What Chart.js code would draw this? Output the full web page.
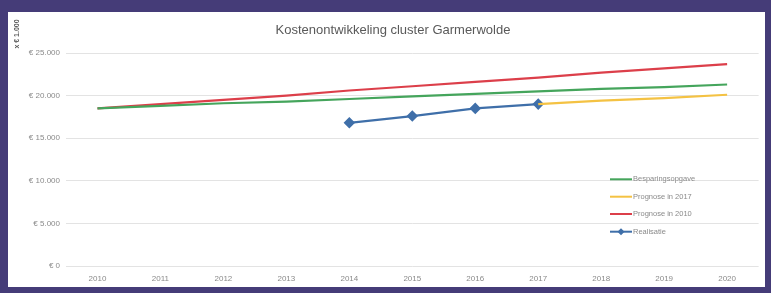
<!DOCTYPE html>
<html>
<head>
<meta charset="utf-8">
<script src="https://cdn.jsdelivr.net/npm/chart.js@4.4.1/dist/chart.umd.min.js"></script>
<style>
  html, body { margin: 0; padding: 0; }
  body { width: 771px; height: 293px; background: #453c78; position: relative; overflow: hidden; }
  #panel { position: absolute; left: 8px; top: 12px; width: 757px; height: 275px; background: #ffffff; }
  canvas { display: block; }
</style>
</head>
<body>
<div id="panel"><canvas id="c" width="757" height="275"></canvas></div>
<script>
const years = ['2010','2011','2012','2013','2014','2015','2016','2017','2018','2019','2020'];
const besparingsopgave = [18500, 18800, 19100, 19300, 19600, 19900, 20200, 20500, 20800, 21000, 21300];
const prognose2017 = [null, null, null, null, null, null, null, 19000, 19400, 19700, 20100];
const prognose2010 = [18500, 19000, 19500, 20000, 20600, 21100, 21600, 22100, 22700, 23200, 23700];
const realisatie = [null, null, null, null, 16800, 17600, 18500, 19000, null, null, null];
const yTicks = [0, 5000, 10000, 15000, 20000, 25000];
const titleText = 'Kostenontwikkeling cluster Garmerwolde';
const yTitle = 'x € 1.000';

const FONT = '"Liberation Sans", Arial, sans-serif';
const fmt = v => '€ ' + v.toString().replace(/\B(?=(\d{3})+(?!\d))/g, '.');

const overlay = {
  id: 'overlay',
  afterDraw(chart) {
    const ctx = chart.ctx;
    ctx.save();
    ctx.fillStyle = '#595959';
    ctx.font = '13px ' + FONT;
    ctx.textAlign = 'center';
    ctx.textBaseline = 'middle';
    ctx.fillText(titleText, 385, 18);
    ctx.save();
    ctx.translate(9, 22);
    ctx.rotate(-Math.PI / 2);
    ctx.font = 'bold 7px ' + FONT;
    ctx.fillStyle = '#595959';
    ctx.fillText(yTitle, 0, 0);
    ctx.restore();
    const ys = [167.3, 184.7, 202, 219.7];
    ctx.font = '7.5px ' + FONT;
    ctx.textAlign = 'left';
    chart.data.datasets.forEach((ds, i) => {
      const y = ys[i];
      ctx.strokeStyle = ds.borderColor;
      ctx.lineWidth = 2;
      ctx.beginPath();
      ctx.moveTo(602, y);
      ctx.lineTo(624, y);
      ctx.stroke();
      if (ds.pointRadius > 0) {
        ctx.fillStyle = ds.borderColor;
        ctx.beginPath();
        ctx.moveTo(613, y - 3.5);
        ctx.lineTo(616.5, y);
        ctx.lineTo(613, y + 3.5);
        ctx.lineTo(609.5, y);
        ctx.closePath();
        ctx.fill();
      }
      ctx.fillStyle = '#8a8a8a';
      ctx.fillText(ds.label, 625, y);
    });
    ctx.restore();
  }
};

new Chart(document.getElementById('c'), {
  type: 'line',
  data: {
    labels: years,
    datasets: [
      { label: 'Besparingsopgave', data: besparingsopgave, borderColor: '#45a55c', borderWidth: 2.2, pointRadius: 0, tension: 0 },
      { label: 'Prognose in 2017', data: prognose2017, borderColor: '#f4c243', borderWidth: 2.2, pointRadius: 0, tension: 0 },
      { label: 'Prognose in 2010', data: prognose2010, borderColor: '#dc3f4a', borderWidth: 2.2, pointRadius: 0, tension: 0 },
      { label: 'Realisatie', data: realisatie, borderColor: '#3f6fa9', backgroundColor: '#3f6fa9', borderWidth: 2.2, pointRadius: 4.2, pointStyle: 'rectRot', pointBackgroundColor: '#3f6fa9', pointBorderColor: '#3f6fa9', tension: 0 }
    ]
  },
  options: {
    responsive: false,
    animation: false,
    devicePixelRatio: 1,
    layout: { padding: { top: 41, right: 2, bottom: 0, left: 0 } },
    plugins: { legend: { display: false }, title: { display: false }, tooltip: { enabled: false } },
    scales: {
      x: {
        offset: true,
        grid: { display: false, drawTicks: false },
        border: { display: false },
        ticks: { color: '#8a8a8a', font: { family: FONT, size: 8 }, padding: 8, maxRotation: 0, autoSkip: false },
        afterFit(s) { s.height = 21; }
      },
      y: {
        min: 0, max: 25000,
        afterBuildTicks(s) { s.ticks = yTicks.map(v => ({ value: v })); },
        grid: { color: '#e3e3e3', drawTicks: false, lineWidth: 1 },
        border: { display: false },
        ticks: { color: '#8a8a8a', font: { family: FONT, size: 8 }, padding: 6, callback: v => fmt(v) },
        afterFit(s) { s.width = 58; }
      }
    }
  },
  plugins: [overlay]
});
</script>
</body>
</html>
